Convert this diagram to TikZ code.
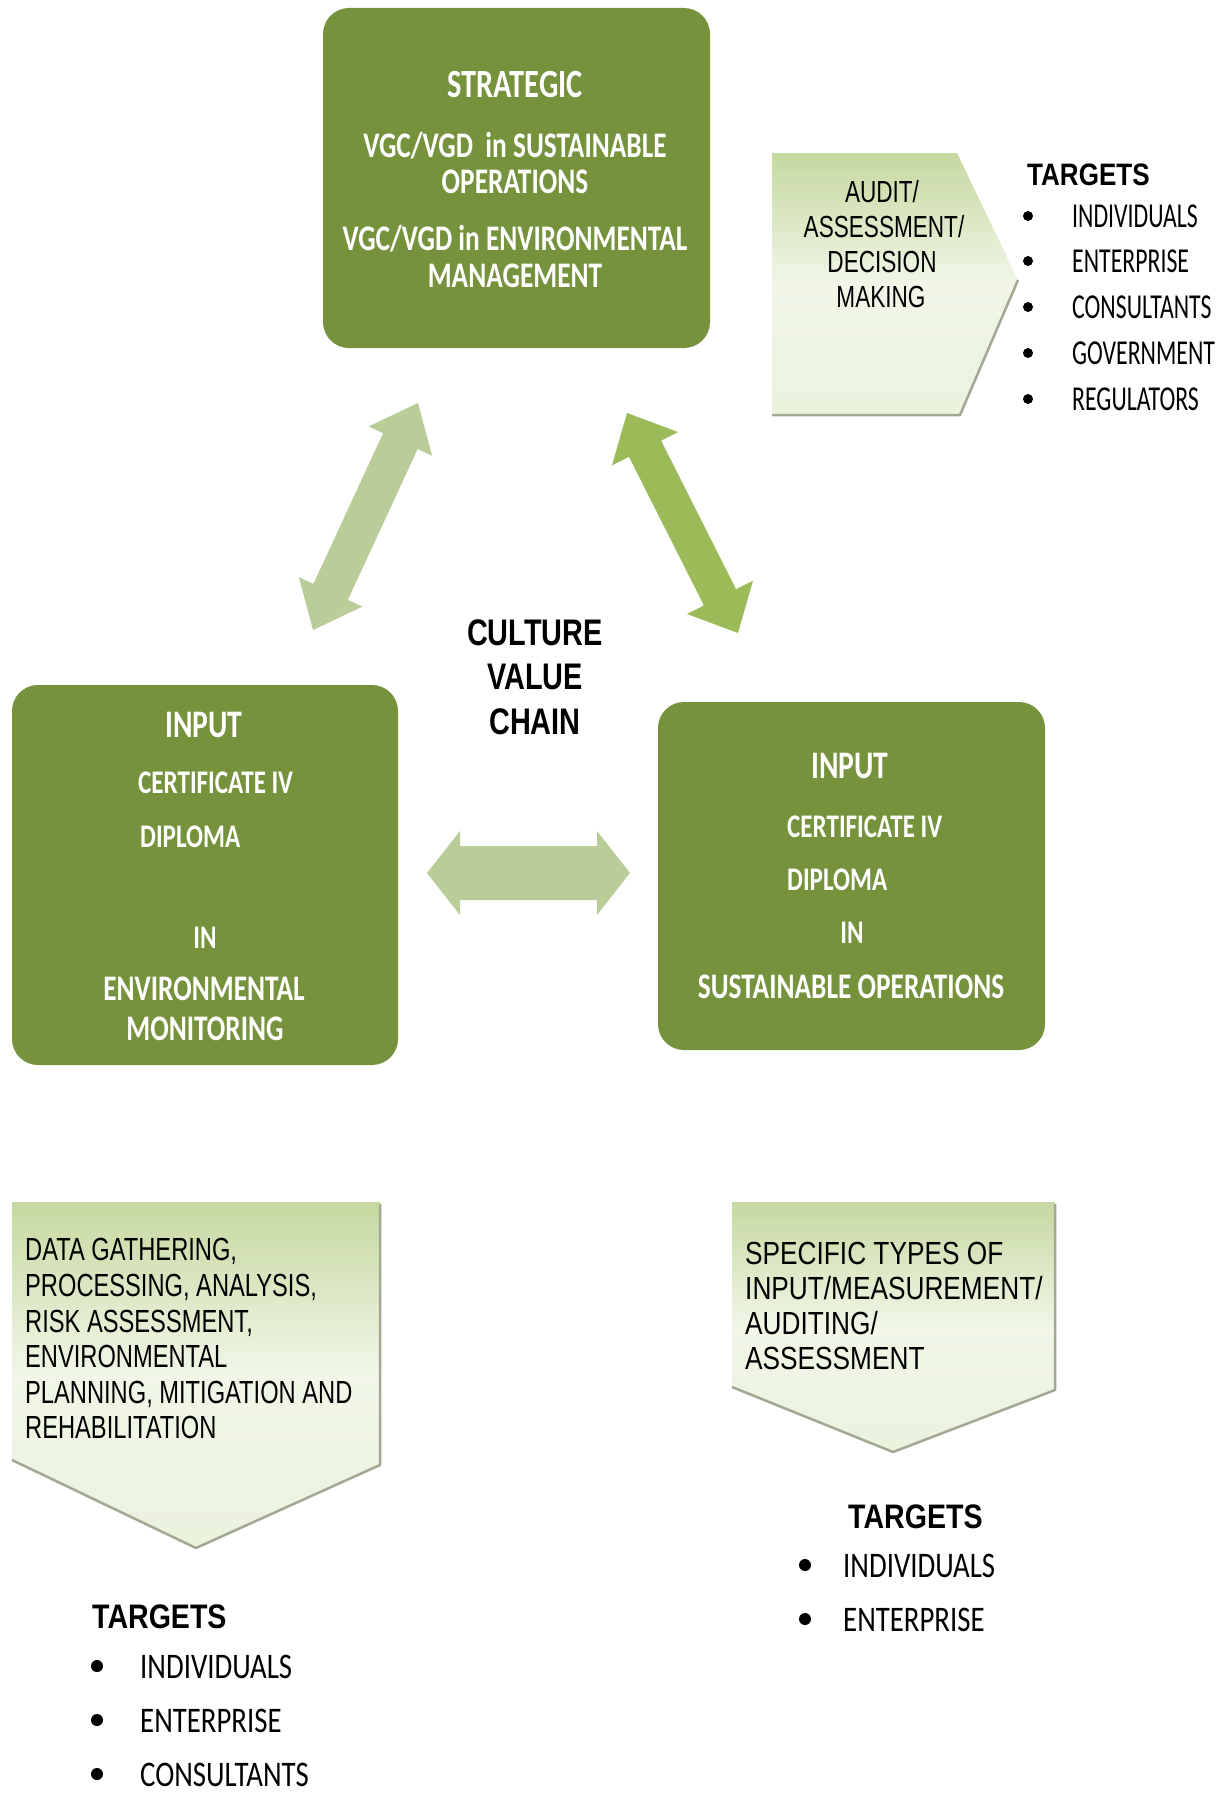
\documentclass[tikz,border=0pt]{standalone}
\usepackage{fontspec}
\setmainfont{Liberation Sans}
\newfontfamily\cbf[FakeStretch=0.76]{Carlito}
\newfontfamily\cbn[FakeStretch=0.68]{Carlito}
\newfontfamily\cbm[FakeStretch=0.80]{Carlito}
\newfontfamily\arn[FakeStretch=0.74]{Liberation Sans}
\newfontfamily\arm[FakeStretch=0.82]{Liberation Sans}
\newfontfamily\arbd[FakeStretch=0.84]{Liberation Sans}
\newfontfamily\arbc[FakeStretch=0.78]{Liberation Sans}
\usetikzlibrary{calc}
\definecolor{boxgreen}{HTML}{76923C}
\definecolor{midgreen}{HTML}{9BBB59}
\definecolor{lightgreen}{HTML}{BACD98}
\definecolor{pentedge}{HTML}{A3A892}
\definecolor{pentdark}{HTML}{C6D8A0}
\definecolor{pentlight}{HTML}{F1F6E8}
\newcommand{\dblarrow}[6]{%
  \fill[#6] (#1)
   -- ($(#1)!#5!(#2)!#4!90:(#2)$)
   -- ($(#1)!#5!(#2)!#3!90:(#2)$)
   -- ($(#2)!#5!(#1)!#3!-90:(#1)$)
   -- ($(#2)!#5!(#1)!#4!-90:(#1)$)
   -- (#2)
   -- ($(#2)!#5!(#1)!#4!90:(#1)$)
   -- ($(#2)!#5!(#1)!#3!90:(#1)$)
   -- ($(#1)!#5!(#2)!#3!-90:(#2)$)
   -- ($(#1)!#5!(#2)!#4!-90:(#2)$)
   -- cycle;}
\tikzset{
  box/.style={rectangle, rounded corners=26pt, fill=boxgreen, draw=none, inner sep=0pt},
  wt/.style={text=white, inner sep=0pt, anchor=base, font=\cbf\bfseries\fontsize{#1}{#1}\selectfont},
  nt/.style={text=black, inner sep=0pt, anchor=base, font=\arn\fontsize{#1}{#1}\selectfont},
  mt/.style={text=black, inner sep=0pt, anchor=base west, font=\arm\fontsize{#1}{#1}\selectfont},
  tg/.style={text=black, inner sep=0pt, anchor=base west, font=\arbd\bfseries\fontsize{#1}{#1}\selectfont},
  itn/.style={text=black, inner sep=0pt, anchor=base west, font=\cbn\fontsize{#1}{#1}\selectfont},
  itm/.style={text=black, inner sep=0pt, anchor=base west, font=\cbm\fontsize{#1}{#1}\selectfont},
  cv/.style={text=black, inner sep=0pt, anchor=base, font=\arbc\bfseries\fontsize{37}{37}\selectfont},
  bul/.style={circle, fill=black, inner sep=0pt, minimum size=#1},
  pent/.style={top color=pentdark, bottom color=pentlight!85!pentdark, middle color=pentlight},
  pedge/.style={draw=pentedge, line width=2.5pt, line join=round}
}
\begin{document}
\begin{tikzpicture}[x=1pt,y=-1pt]
\useasboundingbox (0,0) rectangle (1224,1793);
\fill[white] (0,0) rectangle (1224,1793);

% ---- main boxes
\node[box, minimum width=387pt, minimum height=340pt] (strat) at (516.5,178) {};
\node[box, minimum width=386pt, minimum height=380pt] (inL) at (205,875) {};
\node[box, minimum width=387pt, minimum height=348pt] (inR) at (851.5,876) {};

% strategic text
\node[wt=40] (s1) at (515,97) {STRATEGIC};
\node[wt=36] (s2) at (515,157) {VGC/VGD\ \ in SUSTAINABLE};
\node[wt=36] (s3) at (515,193) {OPERATIONS};
\node[wt=36] (s4) at (515,250) {VGC/VGD in ENVIRONMENTAL};
\node[wt=36] (s5) at (515,287) {MANAGEMENT};

% left input text
\node[wt=39] (l1) at (204,737) {INPUT};
\node[wt=33, anchor=base west] (l2) at (138,793) {CERTIFICATE\,IV};
\node[wt=33, anchor=base west] (l3) at (140,847) {DIPLOMA};
\node[wt=33] (l4) at (205,948) {IN};
\node[wt=36] (l5) at (204,1000) {ENVIRONMENTAL};
\node[wt=36] (l6) at (205,1040) {MONITORING};

% right input text
\node[wt=39] (r1) at (850,778) {INPUT};
\node[wt=33, anchor=base west] (r2) at (787,837) {CERTIFICATE\,IV};
\node[wt=33, anchor=base west] (r3) at (787,890) {DIPLOMA};
\node[wt=33] (r4) at (852,943) {IN};
\node[wt=36] (r5) at (851,998) {SUSTAINABLE OPERATIONS};

% centre label
\node[cv] (c1) at (535,645) {CULTURE};
\node[cv] (c2) at (535,689) {VALUE};
\node[cv] (c3) at (535,734) {CHAIN};

% ---- block arrows
\coordinate (ula) at (418,403);
\coordinate (ulb) at (313,630);
\coordinate (ura) at (627,413);
\coordinate (urb) at (738,633);
\coordinate (ha) at (427,873);
\coordinate (hb) at (630,873);
\dblarrow{ula}{ulb}{19pt}{35pt}{42pt}{lightgreen}
\dblarrow{ura}{urb}{18pt}{37pt}{40pt}{midgreen}
\dblarrow{ha}{hb}{27pt}{42pt}{33pt}{lightgreen}

% ---- audit pentagon (top right)
\shade[pent] (772,153) -- (957,153) -- (1018,280) -- (960,415) -- (772,415) -- cycle;
\draw[pedge] (1018,280) -- (960,415) -- (772,415);
\node[nt=30.5] (a1) at (882,202) {AUDIT/};
\node[nt=30.5] (a2) at (884,237) {ASSESSMENT/};
\node[nt=30.5] (a3) at (882,272) {DECISION};
\node[nt=30.5] (a4) at (881,307) {MAKING};

% targets top right
\node[tg=31] (t1) at (1027,185) {TARGETS};
\node[bul=10pt] (tb1) at (1028,216) {};
\node[bul=10pt] (tb2) at (1028,261) {};
\node[bul=10pt] (tb3) at (1028,307) {};
\node[bul=10pt] (tb4) at (1028,353) {};
\node[bul=10pt] (tb5) at (1028,399) {};
\node[itn=35] (ti1) at (1072,227) {INDIVIDUALS};
\node[itn=35] (ti2) at (1072,272) {ENTERPRISE};
\node[itn=35] (ti3) at (1072,318) {CONSULTANTS};
\node[itn=35] (ti4) at (1072,364) {GOVERNMENT};
\node[itn=35] (ti5) at (1072,410) {REGULATORS};

% ---- bottom left pentagon
\shade[pent] (12,1202) -- (380,1202) -- (380,1465) -- (196,1548) -- (12,1460) -- cycle;
\draw[pedge] (380,1204) -- (380,1465) -- (196,1548) -- (12,1460);
\node[nt=32, anchor=base west] (p1) at (25,1260) {DATA GATHERING,};
\node[nt=32, anchor=base west] (p2) at (25,1296) {PROCESSING, ANALYSIS,};
\node[nt=32, anchor=base west] (p3) at (25,1332) {RISK ASSESSMENT,};
\node[nt=32, anchor=base west] (p4) at (25,1367) {ENVIRONMENTAL};
\node[nt=32, anchor=base west] (p5) at (25,1403) {PLANNING, MITIGATION AND};
\node[nt=32, anchor=base west] (p6) at (25,1438) {REHABILITATION};

% ---- bottom right pentagon
\shade[pent] (732,1202) -- (1055,1202) -- (1055,1390) -- (893,1452) -- (732,1387) -- cycle;
\draw[pedge] (1055,1204) -- (1055,1390) -- (893,1452) -- (732,1387);
\node[mt=32] (q1) at (745,1264) {SPECIFIC TYPES OF};
\node[mt=32] (q2) at (745,1299) {INPUT/MEASUREMENT/};
\node[mt=32] (q3) at (745,1334) {AUDITING/};
\node[mt=32] (q4) at (745,1369) {ASSESSMENT};

% targets bottom right
\node[tg=34] (u0) at (848,1528) {TARGETS};
\node[bul=12pt] (ub1) at (805,1565) {};
\node[bul=12pt] (ub2) at (805,1619) {};
\node[itm=36] (u1) at (843,1577) {INDIVIDUALS};
\node[itm=36] (u2) at (843,1631) {ENTERPRISE};

% targets bottom left
\node[tg=34] (v0) at (92,1628) {TARGETS};
\node[bul=12pt] (vb1) at (97,1666) {};
\node[bul=12pt] (vb2) at (97,1720) {};
\node[bul=12pt] (vb3) at (97,1774) {};
\node[itm=36] (v1) at (140,1678) {INDIVIDUALS};
\node[itm=36] (v2) at (140,1732) {ENTERPRISE};
\node[itm=36] (v3) at (140,1786) {CONSULTANTS};
\end{tikzpicture}
\end{document}
